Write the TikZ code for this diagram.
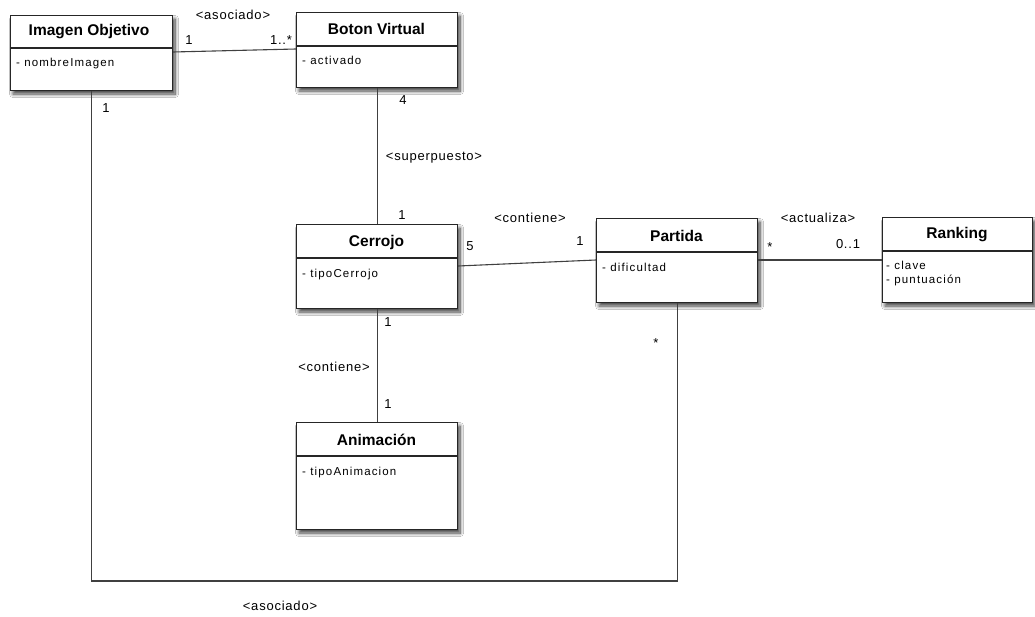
\documentclass[tikz,border=0pt]{standalone}
\usepackage{fontspec}
\setmainfont{Liberation Sans}
\newfontfamily\lblfont[LetterSpace=6]{Liberation Sans}
\newfontfamily\attrfont[LetterSpace=10]{Liberation Sans}
\usetikzlibrary{shadows.blur}
\tikzset{
  classbox/.style={draw=black!85, line width=1.1pt, fill=white, anchor=north west, inner sep=0pt,
    blur shadow={shadow xshift=2.5pt, shadow yshift=-3.5pt, shadow blur radius=3.5pt, shadow blur steps=10, shadow opacity=75}},
  divider/.style={draw=black!85, line width=1.1pt},
  ctitle/.style={inner sep=0pt, font=\fontsize{15.5}{16}\selectfont\bfseries},
  cattr/.style={inner sep=0pt, anchor=north west, align=left, font=\attrfont\fontsize{11.5}{14}\selectfont},
  lbl/.style={inner sep=0pt, font=\lblfont\fontsize{13}{14}\selectfont},
  assoc/.style={draw=black!75, line width=1.1pt}
}
\begin{document}
\begin{tikzpicture}[x=1pt,y=-1pt]
\useasboundingbox (0,0) rectangle (1035,617);
\fill[white] (0,0) rectangle (1035,617);

% class boxes
\node[classbox, minimum width=162pt, minimum height=75pt] (img) at (10,15) {};
\node[classbox, minimum width=161pt, minimum height=75pt] (bot) at (296,12) {};
\node[classbox, minimum width=161pt, minimum height=84pt] (cer) at (296,224) {};
\node[classbox, minimum width=161pt, minimum height=84pt] (par) at (596,218) {};
\node[classbox, minimum width=150pt, minimum height=85pt] (ran) at (882,217) {};
\node[classbox, minimum width=161pt, minimum height=107pt] (ani) at (296,422) {};

% compartment lines
\draw[divider] (img.west |- 0,48) -- (img.east |- 0,48);
\draw[divider] (bot.west |- 0,46) -- (bot.east |- 0,46);
\draw[divider] (cer.west |- 0,258) -- (cer.east |- 0,258);
\draw[divider] (par.west |- 0,252) -- (par.east |- 0,252);
\draw[divider] (ran.west |- 0,251) -- (ran.east |- 0,251);
\draw[divider] (ani.west |- 0,456) -- (ani.east |- 0,456);

% class names
\node[ctitle] (imgT) at (89,32) {Imagen Objetivo};
\node[ctitle] (botT) at (376.5,29) {Boton Virtual};
\node[ctitle] (cerT) at (376.5,242) {Cerrojo};
\node[ctitle] (parT) at (676.5,236) {Partida};
\node[ctitle] (ranT) at (957,235) {Ranking};
\node[ctitle] (aniT) at (376.5,440) {Animación};

% attributes
\node[cattr] (imgA) at (16,58) {- nombreImagen};
\node[cattr] (botA) at (302,56) {- activado};
\node[cattr] (cerA) at (302,269) {- tipoCerrojo};
\node[cattr] (parA) at (602,263) {- dificultad};
\node[cattr] (ranA) at (886,261) {- clave\\- puntuación};
\node[cattr] (aniA) at (302,467) {- tipoAnimacion};

% associations
\draw[assoc] (img.east |- 0,52) -- (bot.west |- 0,49);
\draw[assoc] (bot.south) -- (cer.north);
\draw[assoc] (cer.east |- 0,266) -- (par.west |- 0,260);
\draw[assoc] (par.east |- 0,260) -- (ran.west |- 0,260);
\draw[assoc] (cer.south) -- (ani.north);
\draw[assoc] (img.south) |- (par.south |- 0,581) -- (par.south);

% association names and multiplicities
\node[lbl] (l1) at (233,15) {<asociado>};
\node[lbl] (m1) at (189,40) {1};
\node[lbl] (m2) at (281,40) {1..*};
\node[lbl] (m3) at (106,108) {1};
\node[lbl] (m4) at (403,100) {4};
\node[lbl] (l2) at (434,158) {<superpuesto>};
\node[lbl] (m5) at (402,215) {1};
\node[lbl] (m6) at (470,246) {5};
\node[lbl] (l3) at (530,218) {<contiene>};
\node[lbl] (m7) at (580,241) {1};
\node[lbl] (m8) at (770,247) {*};
\node[lbl] (l4) at (818,218) {<actualiza>};
\node[lbl] (m9) at (848,244) {0..1};
\node[lbl] (m10) at (388,322) {1};
\node[lbl] (l5) at (334,367) {<contiene>};
\node[lbl] (m11) at (388,404) {1};
\node[lbl] (m12) at (656,343) {*};
\node[lbl] (l6) at (280,606) {<asociado>};
\end{tikzpicture}
\end{document}
